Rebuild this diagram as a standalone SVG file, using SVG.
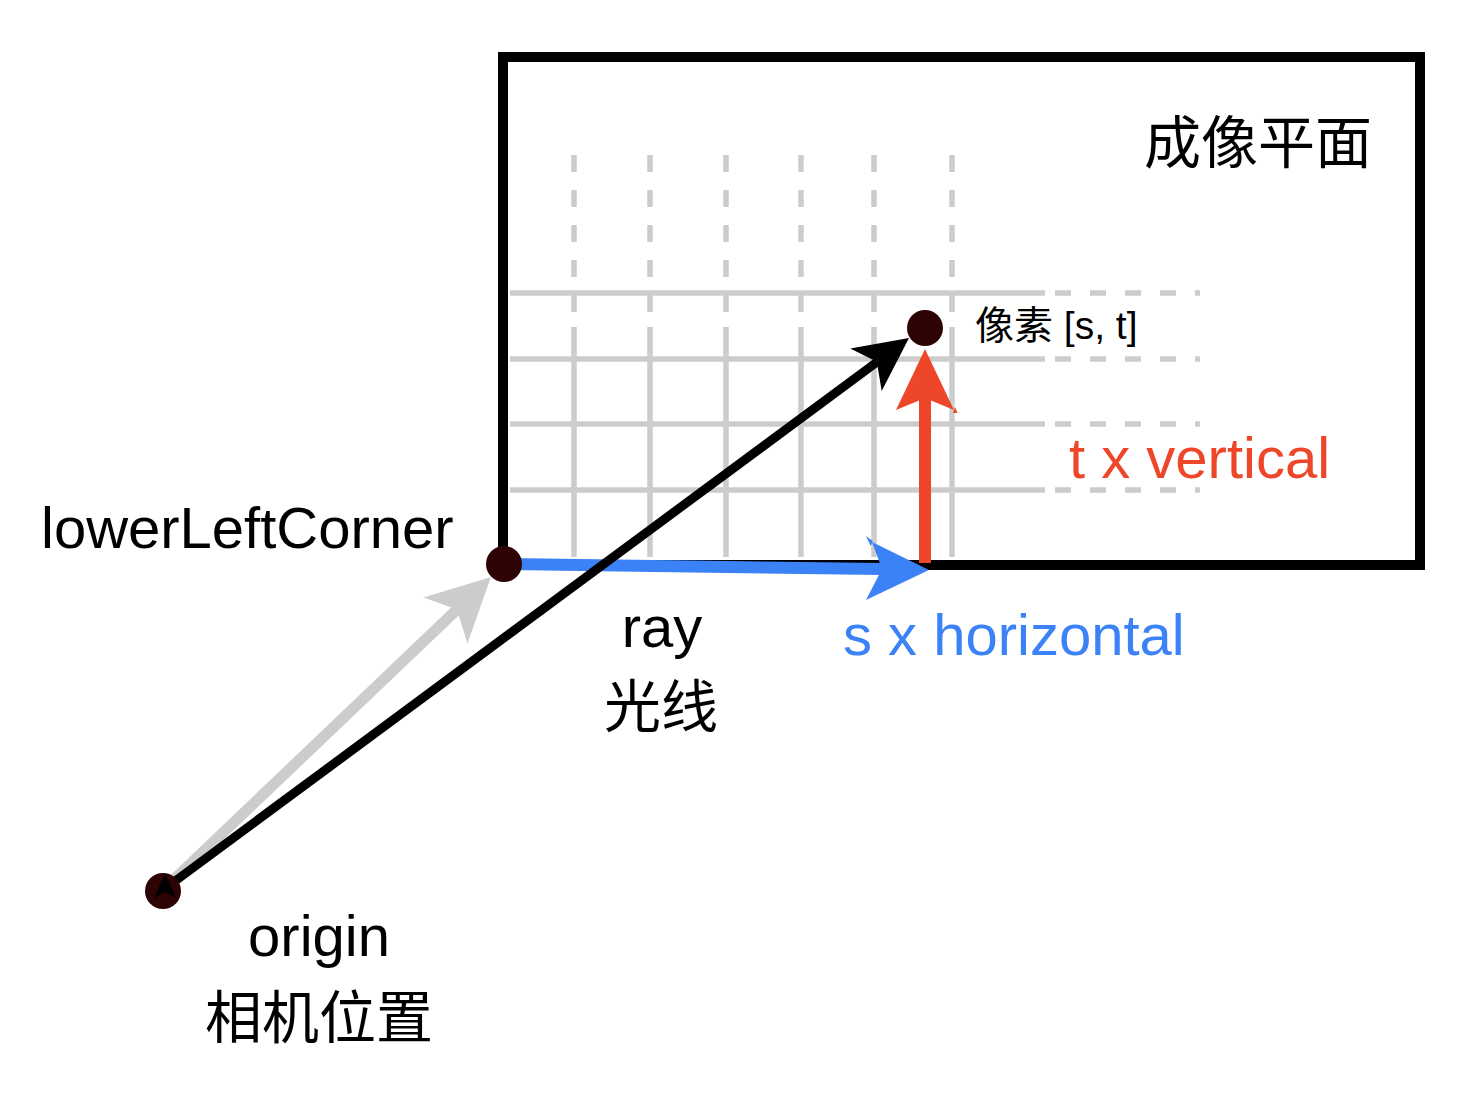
<svg xmlns="http://www.w3.org/2000/svg" width="1484" height="1100" viewBox="0 0 1484 1100">
  <style>
    .lbl { font-family: "Liberation Sans", "Noto Sans CJK SC", sans-serif; font-size: 58px; fill: #000; }
    .zh { font-size: 57px; }
    .grid { stroke: #cccccc; stroke-width: 5.5; fill: none; }
    .gdash { stroke: #cccccc; stroke-width: 5.5; fill: none; stroke-dasharray: 17 18; }
    .hdash { stroke: #cccccc; stroke-width: 5.5; fill: none; stroke-dasharray: 16 19; }
    .dot { fill: #2d0303; }
  </style>
  <rect width="1484" height="1100" fill="#ffffff"/>

  <g id="plane">
    <g id="grid">
      <line class="gdash" x1="574" y1="155" x2="574" y2="312"/>
      <line class="gdash" x1="650" y1="155" x2="650" y2="312"/>
      <line class="gdash" x1="726" y1="155" x2="726" y2="312"/>
      <line class="gdash" x1="801" y1="155" x2="801" y2="312"/>
      <line class="gdash" x1="874" y1="155" x2="874" y2="312"/>
      <line class="gdash" x1="952" y1="155" x2="952" y2="312"/>
      <line class="grid" x1="574" y1="327" x2="574" y2="557"/>
      <line class="grid" x1="650" y1="327" x2="650" y2="557"/>
      <line class="grid" x1="726" y1="327" x2="726" y2="557"/>
      <line class="grid" x1="801" y1="327" x2="801" y2="557"/>
      <line class="grid" x1="874" y1="327" x2="874" y2="557"/>
      <line class="grid" x1="952" y1="327" x2="952" y2="557"/>
      <line class="grid" x1="510" y1="293" x2="1045" y2="293"/>
      <line class="grid" x1="510" y1="359" x2="1045" y2="359"/>
      <line class="grid" x1="510" y1="424" x2="1045" y2="424"/>
      <line class="grid" x1="510" y1="490" x2="1045" y2="490"/>
      <line class="hdash" x1="1055" y1="293" x2="1200" y2="293"/>
      <line class="hdash" x1="1055" y1="359" x2="1200" y2="359"/>
      <line class="hdash" x1="1055" y1="424" x2="1200" y2="424"/>
      <line class="hdash" x1="1055" y1="490" x2="1200" y2="490"/>
    </g>
    <rect x="503" y="57" width="917" height="508" fill="none" stroke="#000" stroke-width="10"/>
    <text class="lbl zh" x="1144" y="163">成像平面</text>
  </g>

  <g id="connectors">
    <!-- origin -> lowerLeftCorner (gray) -->
    <line x1="163" y1="890" x2="457" y2="609.5" stroke="#cccccc" stroke-width="11"/>
    <polygon points="491,577 423.6,597.6 457,609.5 467.4,643.4" fill="#cccccc"/>
    <!-- s x horizontal (blue) -->
    <line x1="504" y1="564" x2="882" y2="569" stroke="#3b82f6" stroke-width="12"/>
    <polygon points="929,570 872,542 882,569 866,600" fill="#3b82f6"/>
    <polygon points="866,536 872.7,541 870.7,546" fill="#3b82f6"/>
    <!-- t x vertical (red) -->
    <line x1="925" y1="563" x2="925" y2="396" stroke="#ed4628" stroke-width="12"/>
    <polygon points="925,349 954,410 925,398 896,410" fill="#ed4628"/>
    <polygon points="955,407 957.5,413 953,413" fill="#ed4628"/>
    <!-- ray (black) -->
    <line x1="163" y1="890" x2="877" y2="362" stroke="#000" stroke-width="9"/>
    <polygon points="909,338 850.3,348.6 876.8,361.8 881.7,391" fill="#000"/>
  </g>

  <g id="lowerLeftCorner">
    <circle class="dot" cx="504" cy="564" r="18"/>
    <text class="lbl" x="41" y="548">lowerLeftCorner</text>
  </g>

  <g id="pixel">
    <circle class="dot" cx="925" cy="328" r="18"/>
    <text class="lbl" x="975" y="339" style="font-size:39px">像素 [s, t]</text>
  </g>

  <g id="origin">
    <circle class="dot" cx="163" cy="891" r="18"/>
    <polygon points="165,874 176,898 165,892 154,898" fill="#000"/>
    <text class="lbl" x="319" y="956" text-anchor="middle">origin</text>
    <text class="lbl zh" x="319" y="1038" text-anchor="middle">相机位置</text>
  </g>

  <g id="ray-label">
    <text class="lbl" x="662" y="647" text-anchor="middle">ray</text>
    <text class="lbl zh" x="661" y="727" text-anchor="middle">光线</text>
  </g>

  <g id="horizontal-label">
    <text class="lbl" x="843" y="655" style="fill:#3b82f6">s x horizontal</text>
  </g>

  <g id="vertical-label">
    <text class="lbl" x="1069" y="478" style="fill:#ed4628">t x vertical</text>
  </g>
</svg>
